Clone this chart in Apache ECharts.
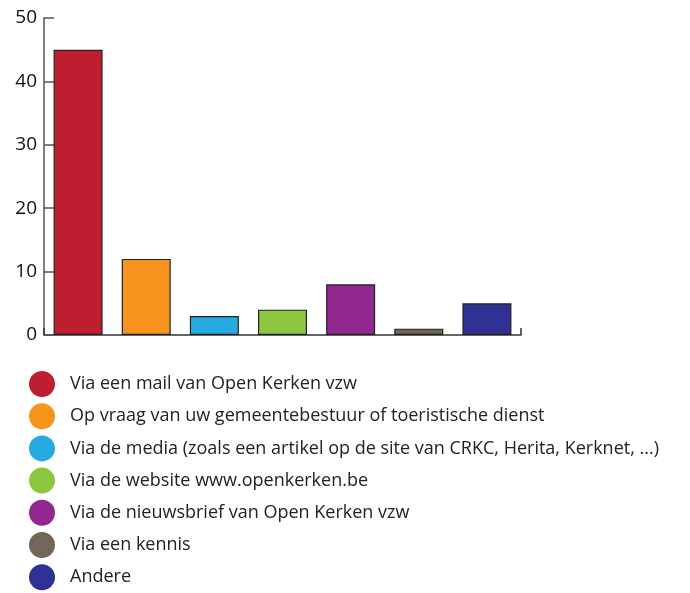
<!DOCTYPE html>
<html>
<head>
<meta charset="utf-8">
<script src="https://cdn.jsdelivr.net/npm/echarts@6/dist/echarts.min.js"></script>
<style>
  html, body { margin: 0; padding: 0; background: #fff; }
  #chart { width: 690px; height: 593px; }
</style>
</head>
<body>
<div id="chart"></div>
<script>
const categories = [
  'Via een mail van Open Kerken vzw',
  'Op vraag van uw gemeentebestuur of toeristische dienst',
  'Via de media (zoals een artikel op de site van CRKC, Herita, Kerknet, ...)',
  'Via de website www.openkerken.be',
  'Via de nieuwsbrief van Open Kerken vzw',
  'Via een kennis',
  'Andere'
]
const values = [45, 12, 3, 4, 8, 1, 5]
const colors = ['#be1e2d', '#f7941d', '#27aae1', '#8dc63f', '#92278f', '#726658', '#2e3192']
const yTicks = [0, 10, 20, 30, 40, 50]

const chart = echarts.init(document.getElementById('chart'))

// one series per category so every bar gets its own legend entry
const series = categories.map((name, i) => {
  return {
    name: name,
    type: 'bar',
    barWidth: 49,
    barGap: '-100%',
    itemStyle: {
      color: colors[i],
      borderColor: '#222',
      borderWidth: 1.2
    },
    data: values.map((v, j) => (j === i ? v : null))
  }
})

chart.setOption({
  animation: false,
  textStyle: { fontFamily: 'Open Sans' },
  grid: { left: 44, top: 18, right: 169, bottom: 258, containLabel: false },
  xAxis: {
    type: 'category',
    data: categories,
    axisLine: { lineStyle: { color: '#333', width: 1.5 } },
    axisTick: { show: true, inside: true, length: 7, lineStyle: { color: '#333', width: 1.5 } },
    axisLabel: { show: false }
  },
  yAxis: {
    type: 'value',
    min: yTicks[0],
    max: yTicks[yTicks.length - 1],
    interval: 10,
    axisLine: { show: true, lineStyle: { color: '#555', width: 1.5 } },
    axisTick: { show: true, inside: true, length: 10, lineStyle: { color: '#555', width: 1.5 } },
    axisLabel: { color: '#111', fontSize: 19, margin: 7, fontFamily: 'Open Sans' },
    splitLine: { show: false }
  },
  legend: {
    orient: 'vertical',
    left: 29,
    top: 371,
    height: 240,
    padding: 0,
    icon: 'circle',
    itemWidth: 26,
    itemHeight: 26,
    itemGap: 6.2,
    itemStyle: { borderWidth: 0 },
    data: categories,
    textStyle: { fontSize: 18, color: '#222', padding: [0, 0, 0, 10], fontFamily: 'Open Sans' },
    selectedMode: false
  },
  series: series
})
</script>
</body>
</html>
